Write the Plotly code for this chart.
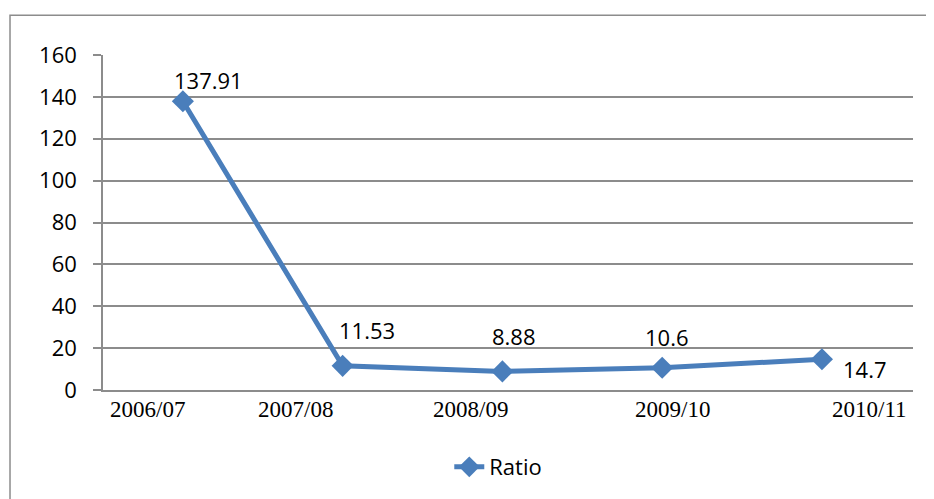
import plotly.graph_objects as go

categories = ["2006/07", "2007/08", "2008/09", "2009/10", "2010/11"]
ratio = [137.91, 11.53, 8.88, 10.6, 14.7]
label_text = ["137.91", "11.53", "8.88", "10.6", "14.7"]

# pixel offsets for labels (style only)
data_label_shift = [(26, 21), (24, 36), (12, 35), (5, 31), (43, -10)]
tick_label_shift = [-35, -47, -32, 10, 48]

BLUE = "#4a7ebb"
GRID = "#8c8c8c"
SANS = "Open Sans"
SERIF = "Liberation Serif"

fig = go.Figure()
fig.add_trace(go.Scatter(
    x=categories, y=ratio, name="Ratio", mode="lines+markers",
    line=dict(color=BLUE, width=5),
    marker=dict(symbol="diamond", size=17, color=BLUE),
))

annotations = []
for c, v, t, (dx, dy) in zip(categories, ratio, label_text, data_label_shift):
    annotations.append(dict(x=c, y=v, xref="x", yref="y", text=t, showarrow=False,
                            xshift=dx, yshift=dy, font=dict(family=SANS, size=22, color="#000")))
for c, dx in zip(categories, tick_label_shift):
    annotations.append(dict(x=c, y=0, xref="x", yref="paper", text=c, showarrow=False,
                            xshift=dx, yshift=-5, yanchor="top",
                            font=dict(family=SERIF, size=23, color="#000")))

fig.update_layout(
    width=926, height=491,
    margin=dict(l=95, r=21, t=47, b=109, autoexpand=False),
    paper_bgcolor="white", plot_bgcolor="white",
    showlegend=True,
    legend=dict(orientation="h", x=0.488, xanchor="center", y=-0.23, yanchor="middle",
                font=dict(family=SANS, size=22, color="#000")),
    annotations=annotations,
    shapes=[dict(type="rect", xref="paper", yref="paper", x0=-0.1148, x1=1.2, y0=-0.6, y1=1.119,
                 line=dict(color=GRID, width=1.5), layer="below")],
    xaxis=dict(type="category", range=[-0.5, 4.57], showticklabels=False, showgrid=False,
               showline=True, linecolor=GRID, linewidth=1.5, ticks="", zeroline=False,
               automargin=False),
    yaxis=dict(range=[0, 160], dtick=20, showgrid=True, gridcolor=GRID, gridwidth=1.5,
               showline=True, linecolor=GRID, linewidth=1.5, ticks="outside", ticklen=8,
               tickcolor=GRID, tickwidth=1.5, zeroline=False, ticklabelstandoff=12,
               automargin=False,
               tickfont=dict(family=SANS, size=22, color="#000")),
)

fig.write_html("out.html")
